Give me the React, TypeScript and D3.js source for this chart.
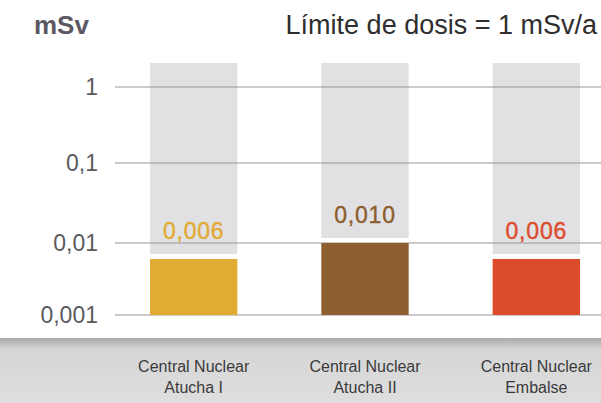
import React from 'react';
import * as d3 from 'd3';

const categories = ['Central Nuclear\nAtucha I', 'Central Nuclear\nAtucha II', 'Central Nuclear\nEmbalse'];
const values = [0.006, 0.010, 0.006];
const valueLabels = ['0,006', '0,010', '0,006'];
const barColors = ['#e2ab33', '#8d5e2f', '#dc4b2b'];
const tickValues = [1, 0.1, 0.01, 0.001];
const tickLabels = ['1', '0,1', '0,01', '0,001'];

const W = 601;
const H = 403;

const App: React.FC = () => {
    // log axis, decades not quite evenly spaced in the original
    const y = d3.scaleLog()
        .domain([0.001, 0.01, 0.1, 1])
        .range([315, 243, 163, 87]);

    const x = d3.scaleBand<number>()
        .domain(d3.range(categories.length))
        .range([150, 580])
        .paddingInner(0.49)
        .paddingOuter(0);

    const font = "'Liberation Sans', Arial, sans-serif";

    return (
        <svg width={W} height={H} style={{ position: 'absolute', left: 0, top: 0, background: '#fff' }}>
            <defs>
                <linearGradient id="band" x1="0" y1="0" x2="0" y2="1">
                    <stop offset="0" stopColor="#a9a9ab" />
                    <stop offset="0.18" stopColor="#d6d6d7" />
                    <stop offset="1" stopColor="#dededf" />
                </linearGradient>
            </defs>

            {/* gray background columns */}
            {values.map((v, i) => (
                <rect key={'bg' + i} x={x(i)} y={63} width={x.bandwidth()}
                    height={y(v) - 5 - 63} fill="#e1e1e3" />
            ))}

            {/* gridlines */}
            {tickValues.map((t, i) => (
                <line key={'g' + i} x1={115} x2={W} y1={y(t)} y2={y(t)}
                    stroke="#9a9698" strokeWidth={1.2} />
            ))}

            {/* tick labels */}
            {tickValues.map((t, i) => (
                <text key={'t' + i} x={98} y={y(t) + 8} textAnchor="end"
                    fontFamily={font} fontSize={23} fill="#5a5a5c">{tickLabels[i]}</text>
            ))}

            {/* bars */}
            {values.map((v, i) => (
                <rect key={'b' + i} x={x(i)} y={y(v)} width={x.bandwidth()}
                    height={y(0.001) - y(v)} fill={barColors[i]} />
            ))}

            {/* value labels */}
            {values.map((v, i) => (
                <text key={'v' + i} x={x(i)! + x.bandwidth() / 2} y={y(v) - 20}
                    textAnchor="middle" fontFamily={font} fontSize={23} letterSpacing={0.8}
                    fill={barColors[i]} stroke={barColors[i]} strokeWidth={0.4}>{valueLabels[i]}</text>
            ))}

            {/* bottom band */}
            <rect x={0} y={338} width={W} height={H - 338} fill="url(#band)" />

            {categories.map((c, i) => (
                <text key={'c' + i} textAnchor="middle" fontFamily={font} fontSize={16} fill="#3a3a3a">
                    {c.split('\n').map((line, j) => (
                        <tspan key={j} x={x(i)! + x.bandwidth() / 2} y={372 + j * 21}>{line}</tspan>
                    ))}
                </text>
            ))}

            {/* titles */}
            <text x={34} y={34} fontFamily={font} fontSize={26} fontWeight="bold" fill="#5c5862">mSv</text>
            <text x={597} y={34} textAnchor="end" fontFamily={font} fontSize={27} fill="#2e2e2e">
                Límite de dosis = 1 mSv/a
            </text>
        </svg>
    );
};

export default App;
